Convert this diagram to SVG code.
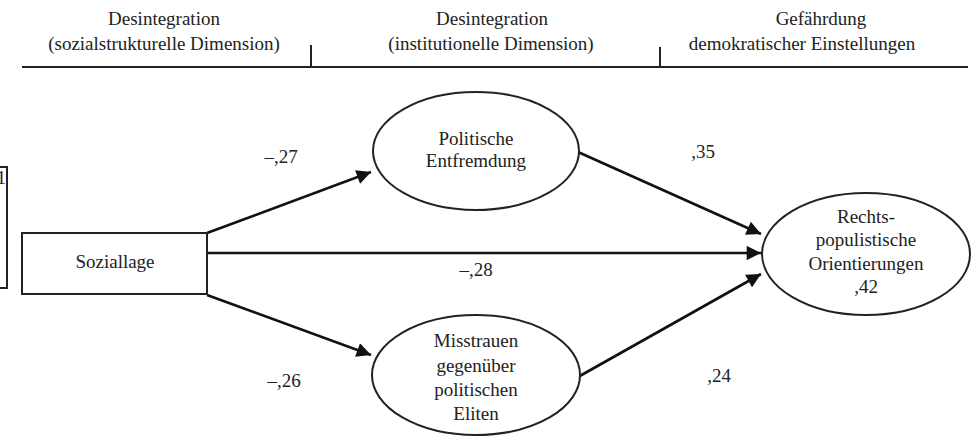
<svg xmlns="http://www.w3.org/2000/svg" width="976" height="436" viewBox="0 0 976 436">
<style>
.shape{fill:#fff;stroke:#222;stroke-width:2}
.rule{stroke:#222;stroke-width:2;fill:none}
.conn{stroke:#111;stroke-width:2.6;fill:none;marker-end:url(#arr)}
</style>
<defs>
<marker id="arr" viewBox="0 0 10 10" refX="10" refY="5" markerWidth="6.5" markerHeight="5.5" markerUnits="strokeWidth" orient="auto">
<path d="M0,0 L10,5 L0,10 z" fill="#111"/>
</marker>
</defs>
<rect width="976" height="436" fill="#fff"/>
<g id="header">
<text x="164" y="25" font-family="'Liberation Serif', serif" font-size="19" fill="#222" text-anchor="middle">Desintegration</text>
<text x="164" y="50" font-family="'Liberation Serif', serif" font-size="19" fill="#222" text-anchor="middle">(sozialstrukturelle Dimension)</text>
<text x="492" y="25" font-family="'Liberation Serif', serif" font-size="19" fill="#222" text-anchor="middle">Desintegration</text>
<text x="491" y="50" font-family="'Liberation Serif', serif" font-size="19" fill="#222" text-anchor="middle">(institutionelle Dimension)</text>
<text x="821" y="25" font-family="'Liberation Serif', serif" font-size="19" fill="#222" text-anchor="middle">Gefährdung</text>
<text x="802" y="50" font-family="'Liberation Serif', serif" font-size="19" fill="#222" text-anchor="middle">demokratischer Einstellungen</text>
<line class="rule" x1="22" y1="67" x2="968" y2="67"/>
<line class="rule" x1="311" y1="45" x2="311" y2="67"/>
<line class="rule" x1="660" y1="47" x2="660" y2="67"/>
</g>
<g id="edge-fragment">
<rect class="shape" x="-6" y="167" width="13" height="121"/>
<text x="6" y="184" font-family="'Liberation Serif', serif" font-size="19" fill="#222" text-anchor="end">1</text>
</g>
<g id="connectors">
<line class="conn" x1="207" y1="233" x2="371" y2="172"/>
<line class="conn" x1="207" y1="253" x2="761" y2="253"/>
<line class="conn" x1="207" y1="295" x2="371" y2="355"/>
<line class="conn" x1="578" y1="152" x2="761" y2="234"/>
<line class="conn" x1="578" y1="377" x2="761" y2="274"/>
</g>
<g id="labels">
<text x="281" y="163" font-family="'Liberation Serif', serif" font-size="19" fill="#222" text-anchor="middle">–,27</text>
<text x="284" y="387" font-family="'Liberation Serif', serif" font-size="19" fill="#222" text-anchor="middle">–,26</text>
<text x="476" y="276" font-family="'Liberation Serif', serif" font-size="19" fill="#222" text-anchor="middle">–,28</text>
<text x="703" y="158" font-family="'Liberation Serif', serif" font-size="19" fill="#222" text-anchor="middle">,35</text>
<text x="719" y="382" font-family="'Liberation Serif', serif" font-size="19" fill="#222" text-anchor="middle">,24</text>
</g>
<g id="soziallage">
<rect class="shape" x="22" y="233" width="185" height="61"/>
<text x="115" y="268" font-family="'Liberation Serif', serif" font-size="19" fill="#222" text-anchor="middle">Soziallage</text>
</g>
<g id="politische-entfremdung">
<ellipse class="shape" cx="476" cy="151" rx="103" ry="59"/>
<text x="476" y="145" font-family="'Liberation Serif', serif" font-size="19" fill="#222" text-anchor="middle">Politische</text>
<text x="476" y="167" font-family="'Liberation Serif', serif" font-size="19" fill="#222" text-anchor="middle">Entfremdung</text>
</g>
<g id="misstrauen">
<ellipse class="shape" cx="476" cy="375" rx="104" ry="60"/>
<text x="476" y="347" font-family="'Liberation Serif', serif" font-size="19" fill="#222" text-anchor="middle">Misstrauen</text>
<text x="476" y="372" font-family="'Liberation Serif', serif" font-size="19" fill="#222" text-anchor="middle">gegenüber</text>
<text x="476" y="396" font-family="'Liberation Serif', serif" font-size="19" fill="#222" text-anchor="middle">politischen</text>
<text x="476" y="420" font-family="'Liberation Serif', serif" font-size="19" fill="#222" text-anchor="middle">Eliten</text>
</g>
<g id="rechtspopulistische">
<ellipse class="shape" cx="866" cy="254" rx="104" ry="61"/>
<text x="866" y="223" font-family="'Liberation Serif', serif" font-size="19" fill="#222" text-anchor="middle">Rechts-</text>
<text x="866" y="246" font-family="'Liberation Serif', serif" font-size="19" fill="#222" text-anchor="middle">populistische</text>
<text x="866" y="270" font-family="'Liberation Serif', serif" font-size="19" fill="#222" text-anchor="middle">Orientierungen</text>
<text x="866" y="293" font-family="'Liberation Serif', serif" font-size="19" fill="#222" text-anchor="middle">,42</text>
</g>
</svg>
